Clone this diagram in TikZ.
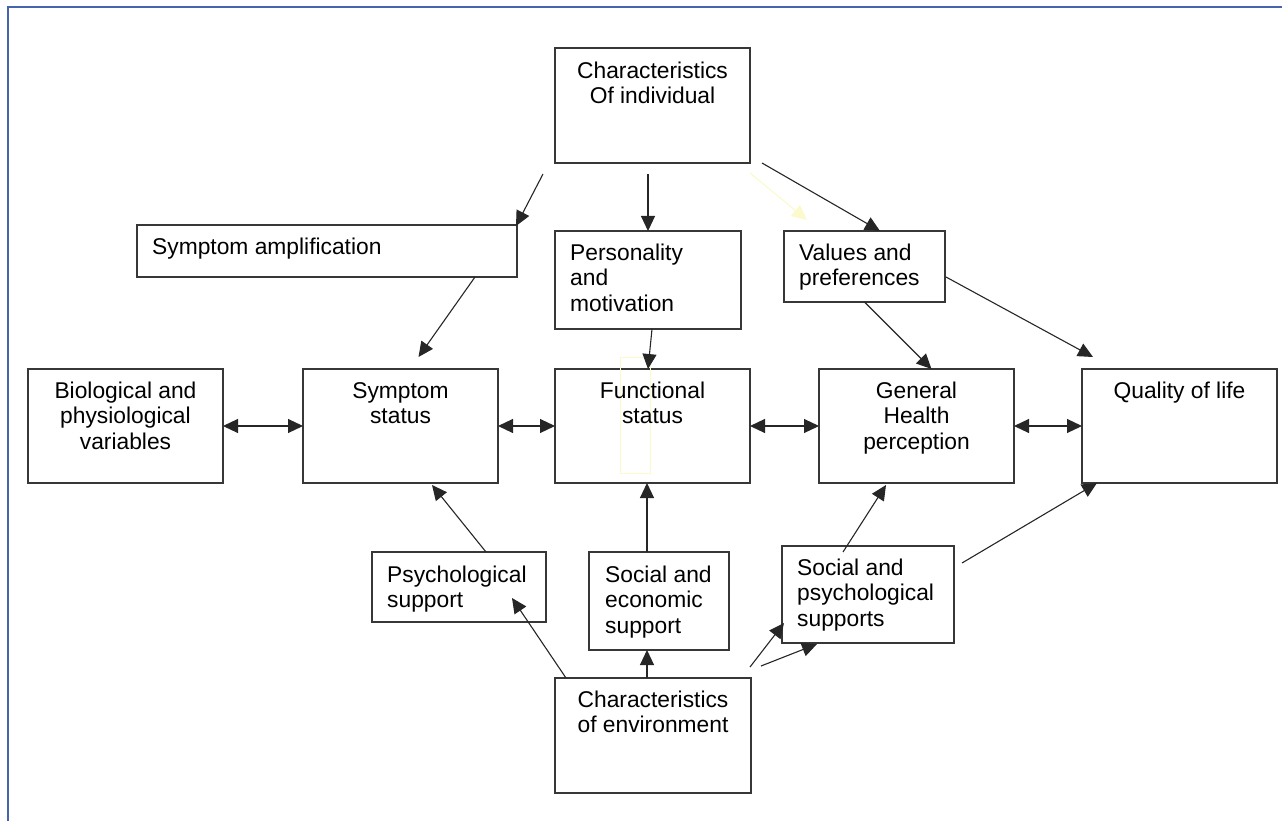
\documentclass[tikz,border=0pt]{standalone}
\usepackage{fontspec}
\setmainfont{Liberation Sans}
\usetikzlibrary{arrows.meta,calc}
\definecolor{framebl}{RGB}{70,98,176}
\definecolor{boxline}{RGB}{55,55,55}
\definecolor{paleyel}{RGB}{250,250,205}
\newcommand{\bodyfont}{\fontsize{22.8}{25.5}\selectfont}
\begin{document}
\begin{tikzpicture}[x=1pt,y=-1pt,
  box/.style={draw=boxline,line width=1.4pt,anchor=north west,inner sep=0pt,outer sep=0pt},
  ctxt/.style={anchor=north,inner sep=0pt,align=center,font=\bodyfont},
  ltxt/.style={anchor=north west,inner sep=0pt,align=left,font=\bodyfont},
  conn/.style={draw=black!85,line width=1.1pt,-{Triangle[length=15pt,width=14pt]}},
  dconn/.style={draw=black!85,line width=1.1pt,{Triangle[length=15pt,width=14pt]}-{Triangle[length=15pt,width=14pt]}},
  yconn/.style={draw=paleyel,line width=1.1pt,-{Triangle[length=15pt,width=14pt]}}]
\useasboundingbox (0,0) rectangle (1282,821);
% frame
\draw[framebl,line width=2pt] (1282,7) -- (8,7) -- (8,821);
% boxes
\node[box,minimum width=195pt,minimum height=115pt] (ci) at (555,48) {};
\node[box,minimum width=380pt,minimum height=52pt] (amp) at (137,225) {};
\node[box,minimum width=186pt,minimum height=98pt] (pm) at (555,231) {};
\node[box,minimum width=161pt,minimum height=71pt] (vp) at (784,231) {};
\node[box,minimum width=195pt,minimum height=114pt] (bio) at (28,369) {};
\node[box,minimum width=195pt,minimum height=114pt] (ss) at (303,369) {};
\node[box,minimum width=195pt,minimum height=114pt] (fs) at (555,369) {};
\node[box,minimum width=195pt,minimum height=114pt] (gh) at (819,369) {};
\node[box,minimum width=195pt,minimum height=114pt] (ql) at (1082,369) {};
\node[box,minimum width=174pt,minimum height=70pt] (ps) at (372,552) {};
\node[box,minimum width=140pt,minimum height=98pt] (se) at (589,552) {};
\node[box,minimum width=172pt,minimum height=97pt] (sp) at (782,546) {};
\node[box,minimum width=196pt,minimum height=115pt] (ce) at (555,678) {};
% faint yellow rectangle
\draw[paleyel,line width=1pt] (620,357) rectangle (650,473);
% texts
\node[ctxt] (tci) at (652.5,60.2) {\strut Characteristics\\Of individual};
\node[ltxt] (tamp) at (152,236.2) {\strut Symptom amplification};
\node[ltxt] (tpm) at (570,242.2) {\strut Personality\\and\\motivation};
\node[ltxt] (tvp) at (799,242.2) {\strut Values and\\preferences};
\node[ctxt] (tbio) at (125.5,380.2) {\strut Biological and\\physiological\\variables};
\node[ctxt] (tss) at (400.5,380.2) {\strut Symptom\\status};
\node[ctxt] (tfs) at (652.5,380.2) {\strut Functional\\status};
\node[ctxt] (tgh) at (916.5,380.2) {\strut General\\Health\\perception};
\node[ctxt] (tql) at (1179.5,380.2) {\strut Quality of life};
\node[ltxt] (tps) at (387,564.2) {\strut Psychological\\support};
\node[ltxt] (tse) at (605,564.2) {\strut Social and\\economic\\support};
\node[ltxt] (tsp) at (797,557.2) {\strut Social and\\psychological\\supports};
\node[ctxt] (tce) at (653,689.2) {\strut Characteristics\\of environment};
% connectors
\draw[conn] ($(ci.south west)+(-12,11)$) -- ($(amp.north east)+(-1,1)$);
\draw[conn] ($(ci.south)+(-4.5,11)$) -- (pm.north);
\draw[conn] ($(ci.south east)+(12,0)$) -- ($(vp.north)+(15.5,0)$);
\draw[yconn] ($(ci.south east)+(0,10)$) -- ($(vp.north west)+(23,-11)$);
\draw[conn] ($(amp.south east)+(-42,0)$) -- ($(ss.north)+(18,-12)$);
\draw[conn] ($(pm.south)+(4,0)$) -- ($(fs.north)+(-4.5,0)$);
\draw[conn] (vp.south) -- ($(gh.north)+(15,0)$);
\draw[conn] ($(vp.east)+(1,10.5)$) -- ($(ql.north west)+(11,-12)$);
\draw[dconn] (bio.east) -- (ss.west);
\draw[dconn] (ss.east) -- (fs.west);
\draw[dconn] (fs.east) -- (gh.west);
\draw[dconn] (gh.east) -- (ql.west);
\draw[conn] ($(ps.north)+(27,0)$) -- ($(ss.south)+(31.5,2)$);
\draw[conn] ($(se.north)+(-12,0)$) -- ($(fs.south)+(-5.5,0)$);
\draw[conn] ($(ce.north)+(-6,0)$) -- ($(se.south)+(-12,0)$);
\draw[conn] ($(ce.north west)+(11,0)$) -- ($(ps.south east)+(-34,-24)$);
\draw[conn] ($(ce.north east)+(-1,-11)$) -- ($(sp.south west)+(2,-20)$);
\draw[conn] ($(ce.north east)+(10,-12)$) -- ($(sp.south west)+(35,1)$);
\draw[conn] ($(sp.north west)+(61,6)$) -- ($(gh.south)+(-30.5,2)$);
\draw[conn] ($(sp.north east)+(8,17)$) -- ($(ql.south west)+(15,0)$);
\end{tikzpicture}
\end{document}
